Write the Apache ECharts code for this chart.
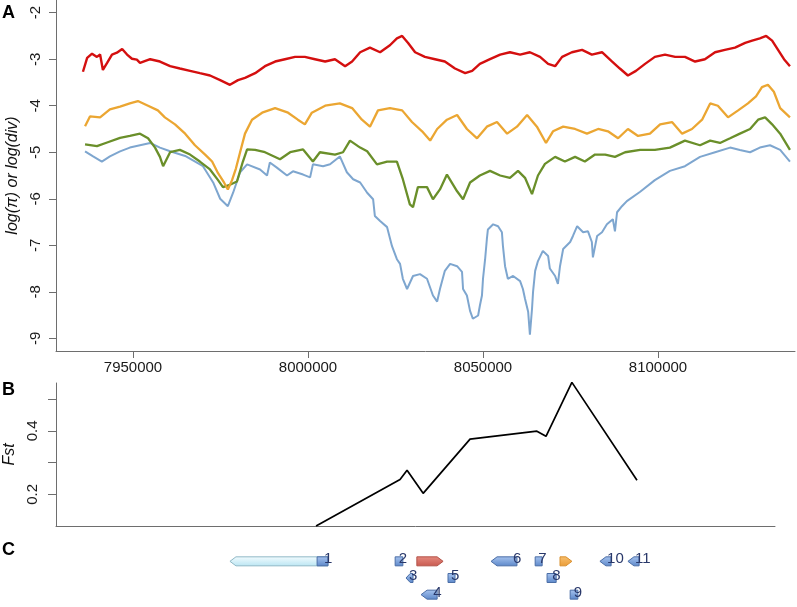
<!DOCTYPE html>
<html>
<head>
<meta charset="utf-8">
<script src="https://cdn.jsdelivr.net/npm/echarts@6/dist/echarts.min.js"></script>
<style>
html,body{margin:0;padding:0;background:#fff;}
#chart{width:797px;height:607px;}
</style>
</head>
<body>
<div id="chart"></div>
<script>
// ---- tick values ----
const xTickValues = [7950000, 8000000, 8050000, 8100000];
const yTickValuesA = [-9, -8, -7, -6, -5, -4, -3, -2];
const yTickValuesB = [0.2, 0.3, 0.4, 0.5];
const yLabelValuesB = [0.2, 0.4];

// ---- panel A series: [position (kb), log value] ----
const piRed = [[7935.7,-3.27],[7936.9,-2.97],[7938.3,-2.88],[7939.7,-2.95],[7940.6,-2.9],[7941.4,-3.23],[7942.6,-3.08],[7944.0,-2.9],[7945.4,-2.86],[7946.9,-2.78],[7948.3,-2.9],[7949.7,-2.99],[7951.1,-3.01],[7952.0,-3.08],[7954.9,-3.0],[7957.7,-3.05],[7960.6,-3.15],[7963.4,-3.2],[7966.3,-3.25],[7969.1,-3.3],[7972.0,-3.35],[7974.9,-3.45],[7977.7,-3.55],[7980.0,-3.45],[7982.0,-3.4],[7984.9,-3.3],[7987.7,-3.15],[7990.6,-3.05],[7993.4,-3.0],[7996.3,-2.95],[7999.1,-2.95],[8002.0,-3.0],[8004.9,-3.05],[8007.7,-3.0],[8010.6,-3.15],[8012.6,-3.05],[8014.9,-2.85],[8017.7,-2.75],[8020.6,-2.85],[8023.4,-2.7],[8025.4,-2.55],[8026.9,-2.5],[8028.6,-2.65],[8030.6,-2.85],[8033.4,-2.95],[8036.3,-3.0],[8039.1,-3.05],[8042.0,-3.2],[8044.9,-3.3],[8046.9,-3.25],[8049.1,-3.1],[8052.0,-3.0],[8054.9,-2.9],[8057.7,-2.85],[8060.6,-2.9],[8063.4,-2.85],[8066.3,-2.95],[8068.6,-3.1],[8070.6,-3.15],[8072.6,-2.95],[8075.4,-2.85],[8078.3,-2.8],[8081.1,-2.9],[8084.0,-2.85],[8086.9,-3.05],[8089.1,-3.2],[8091.4,-3.35],[8093.7,-3.25],[8096.3,-3.1],[8099.1,-2.95],[8102.0,-2.9],[8104.9,-2.95],[8107.7,-2.95],[8110.6,-3.05],[8113.4,-3.0],[8116.3,-2.85],[8119.1,-2.8],[8122.0,-2.75],[8124.9,-2.65],[8126.9,-2.6],[8129.1,-2.55],[8130.9,-2.5],[8132.6,-2.6],[8134.3,-2.8],[8136.0,-3.0],[8137.7,-3.15]];

const piOrange = [[7936.3,-4.44],[7937.7,-4.23],[7940.6,-4.25],[7943.4,-4.08],[7946.3,-4.02],[7949.1,-3.95],[7951.4,-3.9],[7954.3,-4.0],[7957.1,-4.1],[7959.1,-4.25],[7962.0,-4.4],[7964.9,-4.6],[7967.7,-4.85],[7970.6,-5.05],[7972.6,-5.2],[7974.3,-5.45],[7976.0,-5.65],[7977.1,-5.8],[7978.3,-5.6],[7979.4,-5.35],[7980.6,-5.0],[7982.0,-4.6],[7984.0,-4.3],[7986.9,-4.15],[7990.6,-4.05],[7994.3,-4.15],[7997.1,-4.3],[7999.1,-4.4],[8001.1,-4.15],[8004.9,-4.0],[8009.1,-3.95],[8012.6,-4.05],[8015.4,-4.3],[8017.7,-4.45],[8020.0,-4.1],[8023.4,-4.05],[8026.9,-4.1],[8029.7,-4.35],[8032.6,-4.55],[8034.9,-4.75],[8036.9,-4.5],[8039.7,-4.3],[8042.6,-4.2],[8045.4,-4.5],[8048.3,-4.7],[8051.1,-4.45],[8054.0,-4.35],[8056.9,-4.6],[8059.7,-4.45],[8062.6,-4.2],[8065.4,-4.45],[8068.0,-4.8],[8070.0,-4.55],[8072.9,-4.45],[8076.3,-4.5],[8079.7,-4.6],[8082.9,-4.5],[8085.7,-4.55],[8088.6,-4.7],[8091.4,-4.5],[8094.3,-4.65],[8097.7,-4.6],[8100.6,-4.4],[8104.0,-4.35],[8106.9,-4.6],[8109.7,-4.5],[8112.6,-4.3],[8114.9,-3.95],[8117.1,-4.0],[8120.0,-4.25],[8122.9,-4.1],[8125.7,-3.95],[8128.0,-3.8],[8129.7,-3.6],[8131.4,-3.55],[8133.1,-3.7],[8134.9,-4.05],[8137.7,-4.25]];

const piGreen = [[7936.3,-4.83],[7939.7,-4.87],[7942.6,-4.79],[7946.3,-4.69],[7949.1,-4.65],[7952.0,-4.6],[7954.3,-4.7],[7956.3,-4.9],[7957.7,-5.1],[7958.6,-5.3],[7960.6,-5.0],[7963.4,-4.95],[7966.3,-5.05],[7969.1,-5.2],[7972.0,-5.37],[7974.3,-5.6],[7975.7,-5.75],[7977.7,-5.7],[7979.7,-5.63],[7981.4,-5.2],[7982.6,-4.94],[7984.9,-4.95],[7987.7,-5.0],[7992.0,-5.15],[7994.9,-5.0],[7998.6,-4.94],[8001.4,-5.2],[8003.4,-5.0],[8007.7,-5.05],[8010.0,-5.0],[8012.0,-4.75],[8014.9,-4.9],[8016.9,-4.98],[8019.7,-5.26],[8022.6,-5.2],[8025.4,-5.2],[8027.1,-5.58],[8029.1,-6.12],[8030.0,-6.18],[8031.4,-5.75],[8034.0,-5.75],[8035.7,-6.01],[8037.7,-5.8],[8039.7,-5.48],[8042.6,-5.84],[8044.3,-6.01],[8046.3,-5.65],[8049.1,-5.5],[8052.0,-5.4],[8054.9,-5.5],[8057.7,-5.55],[8060.0,-5.4],[8062.0,-5.55],[8064.0,-5.9],[8065.7,-5.5],[8067.7,-5.25],[8070.6,-5.1],[8073.4,-5.2],[8076.3,-5.1],[8079.1,-5.2],[8082.0,-5.05],[8084.9,-5.05],[8087.7,-5.1],[8090.6,-5.0],[8094.9,-4.95],[8099.1,-4.95],[8103.4,-4.9],[8107.7,-4.75],[8112.0,-4.85],[8114.9,-4.75],[8117.7,-4.8],[8120.6,-4.7],[8123.4,-4.6],[8126.3,-4.5],[8128.6,-4.3],[8130.6,-4.25],[8132.6,-4.4],[8134.9,-4.6],[8137.7,-4.95]];

const piBlue = [[7936.3,-4.98],[7938.6,-5.09],[7941.1,-5.2],[7943.4,-5.09],[7946.3,-4.98],[7949.1,-4.9],[7952.0,-4.85],[7954.9,-4.8],[7957.7,-4.9],[7960.6,-4.98],[7964.9,-5.08],[7970.0,-5.3],[7972.9,-5.65],[7974.9,-6.0],[7977.1,-6.16],[7978.6,-5.87],[7980.6,-5.43],[7982.6,-5.26],[7986.3,-5.37],[7988.3,-5.5],[7989.1,-5.22],[7991.1,-5.33],[7994.0,-5.5],[7995.7,-5.41],[7998.6,-5.48],[8000.6,-5.54],[8001.4,-5.26],[8004.3,-5.3],[8006.3,-5.26],[8009.1,-5.09],[8011.1,-5.43],[8012.9,-5.58],[8014.9,-5.65],[8016.9,-5.87],[8018.6,-6.01],[8019.1,-6.37],[8020.6,-6.48],[8022.6,-6.61],[8024.0,-7.02],[8025.4,-7.3],[8026.3,-7.4],[8027.1,-7.72],[8028.3,-7.94],[8030.0,-7.66],[8032.0,-7.62],[8034.0,-7.72],[8035.7,-8.08],[8036.9,-8.21],[8037.7,-7.94],[8039.1,-7.55],[8040.6,-7.4],[8042.6,-7.45],[8044.0,-7.57],[8044.3,-7.94],[8045.4,-8.08],[8046.3,-8.41],[8047.1,-8.58],[8048.6,-8.51],[8049.1,-8.3],[8049.7,-8.08],[8050.0,-7.72],[8050.6,-7.3],[8051.1,-6.87],[8051.4,-6.66],[8052.9,-6.55],[8054.3,-6.59],[8055.4,-6.72],[8055.7,-7.02],[8056.3,-7.45],[8057.1,-7.72],[8058.6,-7.66],[8060.6,-7.77],[8061.4,-7.94],[8062.0,-8.15],[8062.9,-8.43],[8063.4,-8.92],[8064.0,-8.37],[8064.3,-8.0],[8064.9,-7.55],[8065.7,-7.34],[8067.1,-7.12],[8068.6,-7.23],[8069.1,-7.5],[8070.6,-7.66],[8071.4,-7.83],[8072.0,-7.45],[8072.9,-7.08],[8074.9,-6.93],[8075.7,-6.8],[8076.9,-6.59],[8078.6,-6.72],[8080.0,-6.7],[8081.1,-6.93],[8081.4,-7.26],[8082.6,-6.8],[8084.0,-6.72],[8085.4,-6.55],[8087.1,-6.44],[8087.7,-6.7],[8088.3,-6.29],[8089.7,-6.16],[8091.1,-6.05],[8094.9,-5.85],[8099.1,-5.6],[8103.4,-5.4],[8107.7,-5.3],[8112.0,-5.1],[8116.3,-5.0],[8120.6,-4.9],[8123.4,-4.95],[8126.3,-5.0],[8129.1,-4.9],[8132.0,-4.85],[8134.9,-4.95],[8137.7,-5.2]];

// ---- panel B: Fst ----
const fstPos = [8002300, 8026300, 8028300, 8032900, 8046300, 8065400, 8068000, 8075400, 8094000];
const fstVal = [0.10, 0.247, 0.276, 0.203, 0.374, 0.399, 0.383, 0.553, 0.244];

// ---- panel C: genes ----
const geneStart  = [7977700, 8002600, 8024900, 8031100, 8028000, 8040000, 8032300, 8052300, 8064900, 8072000, 8068300, 8074900, 8083400, 8091400];
const geneEnd    = [8005700, 8005700, 8027100, 8038600, 8030000, 8042000, 8036900, 8059700, 8066900, 8075400, 8070900, 8077100, 8086600, 8094600];
const geneRow    = [0, 0, 0, 0, 1, 1, 2, 0, 0, 0, 1, 2, 0, 0];
const geneStrand = [-1, 0, 0, 1, -1, 0, -1, -1, 0, 1, 0, 0, -1, -1];
const geneKind   = ['cyan','blue','blue','red','blue','blue','blue','blue','blue','orange','blue','blue','blue','blue'];
const geneLabel  = ['', '1', '2', '', '3', '5', '4', '6', '7', '', '8', '9', '10', '11'];

const palettes = {
  cyan:   ['#f4fcff', '#b9e5f2', '#8fb8c6'],
  blue:   ['#a8c4ef', '#5b87c9', '#4b6ea6'],
  red:    ['#e58a7f', '#c8594f', '#b35248'],
  orange: ['#f8c070', '#ea9c36', '#d9902f']
};

const FONT = 'Liberation Sans, Arial, Helvetica, sans-serif';
const AXC = '#6e6e6e';

const toBp = arr => arr.map(p => [Math.round(p[0] * 1000), p[1]]);

const chart = echarts.init(document.getElementById('chart'), null, {renderer: 'canvas'});

const option = {
  animation: false,
  backgroundColor: '#ffffff',
  grid: [
    {left: 56, top: 0, width: 739, height: 351, outerBoundsMode: 'none', containLabel: false},
    {left: 56, top: 383, width: 719, height: 143, outerBoundsMode: 'none', containLabel: false},
    {left: 56, top: 553, width: 739, height: 50, outerBoundsMode: 'none', containLabel: false}
  ],
  xAxis: [
    {
      gridIndex: 0, type: 'value', min: 7928000, max: 8139140,
      axisLine: {show: true, onZero: false, lineStyle: {color: AXC, width: 1}},
      axisTick: {show: true, length: 7, customValues: xTickValues, lineStyle: {color: AXC}},
      axisLabel: {show: true, customValues: xTickValues, margin: 9, fontSize: 15, color: '#1a1a1a', fontFamily: FONT,
        formatter: v => String(v)},
      splitLine: {show: false}
    },
    {
      gridIndex: 1, type: 'value', min: 7928000, max: 8133430,
      axisLine: {show: true, onZero: false, lineStyle: {color: AXC, width: 1}},
      axisTick: {show: false}, axisLabel: {show: false}, splitLine: {show: false}
    },
    {
      gridIndex: 2, type: 'value', min: 7928000, max: 8139140, show: false
    }
  ],
  yAxis: [
    {
      gridIndex: 0, type: 'value', min: -9.273, max: -1.727,
      axisLine: {show: true, onZero: false, lineStyle: {color: AXC, width: 1}},
      axisTick: {show: true, length: 7, customValues: yTickValuesA, lineStyle: {color: AXC}},
      axisLabel: {show: true, customValues: yTickValuesA, rotate: 90, margin: 13, fontSize: 15, color: '#1a1a1a', fontFamily: FONT},
      splitLine: {show: false},
      name: 'log(π) or log(div)', nameLocation: 'middle', nameRotate: 90, nameGap: 35,
      nameTextStyle: {fontStyle: 'italic', fontSize: 16, color: '#111', fontFamily: FONT}
    },
    {
      gridIndex: 1, type: 'value', min: 0.1, max: 0.551,
      axisLine: {show: true, onZero: false, lineStyle: {color: AXC, width: 1}},
      axisTick: {show: true, length: 8, customValues: yTickValuesB, lineStyle: {color: AXC}},
      axisLabel: {show: true, customValues: yLabelValuesB, rotate: 90, margin: 16, fontSize: 15, color: '#1a1a1a', fontFamily: FONT},
      splitLine: {show: false},
      name: 'Fst', nameLocation: 'middle', nameRotate: 90, nameGap: 36,
      nameTextStyle: {fontStyle: 'italic', fontSize: 16, color: '#111', fontFamily: FONT}
    },
    {
      gridIndex: 2, type: 'value', min: -0.5, max: 2.5, inverse: true, show: false
    }
  ],
  graphic: [
    {type: 'text', left: 2, top: 4, style: {text: 'A', font: 'bold 18px ' + FONT, fill: '#000'}},
    {type: 'text', left: 2, top: 381, style: {text: 'B', font: 'bold 18px ' + FONT, fill: '#000'}},
    {type: 'text', left: 2, top: 541, style: {text: 'C', font: 'bold 18px ' + FONT, fill: '#000'}}
  ],
  series: [
    {type: 'line', name: 'blue', xAxisIndex: 0, yAxisIndex: 0, data: toBp(piBlue), showSymbol: false,
      lineStyle: {color: '#7ea6cf', width: 2}, z: 2},
    {type: 'line', name: 'green', xAxisIndex: 0, yAxisIndex: 0, data: toBp(piGreen), showSymbol: false,
      lineStyle: {color: '#6a8f2a', width: 2.3}, z: 3},
    {type: 'line', name: 'orange', xAxisIndex: 0, yAxisIndex: 0, data: toBp(piOrange), showSymbol: false,
      lineStyle: {color: '#eba632', width: 2.3}, z: 4},
    {type: 'line', name: 'red', xAxisIndex: 0, yAxisIndex: 0, data: toBp(piRed), showSymbol: false,
      lineStyle: {color: '#d40f0f', width: 2.4}, z: 5},
    {type: 'line', name: 'fst', xAxisIndex: 1, yAxisIndex: 1, clip: false,
      data: fstPos.map((p, i) => [p, fstVal[i]]), showSymbol: false,
      lineStyle: {color: '#000', width: 1.7}},
    {
      type: 'custom', name: 'genes', xAxisIndex: 2, yAxisIndex: 2, clip: false,
      data: geneStart.map((s, i) => [s, geneEnd[i], geneRow[i], geneStrand[i]]),
      encode: {x: [0, 1], y: 2},
      renderItem: function (params, api) {
        const i = params.dataIndex;
        const s = api.coord([api.value(0), api.value(2)]);
        const e = api.coord([api.value(1), api.value(2)]);
        const x0 = s[0], x1 = e[0], yc = s[1];
        const hh = 4.5;
        const strand = api.value(3);
        const tip = Math.min(6, (x1 - x0) * 0.6);
        let pts;
        if (strand < 0) pts = [[x0, yc], [x0 + tip, yc - hh], [x1, yc - hh], [x1, yc + hh], [x0 + tip, yc + hh]];
        else if (strand > 0) pts = [[x0, yc - hh], [x1 - tip, yc - hh], [x1, yc], [x1 - tip, yc + hh], [x0, yc + hh]];
        else pts = [[x0, yc - hh], [x1, yc - hh], [x1, yc + hh], [x0, yc + hh]];
        const pal = palettes[geneKind[i]];
        const children = [{
          type: 'polygon', shape: {points: pts},
          style: {
            fill: new echarts.graphic.LinearGradient(0, 0, 0, 1, [{offset: 0, color: pal[0]}, {offset: 1, color: pal[1]}]),
            stroke: pal[2], lineWidth: 1
          }
        }];
        if (geneLabel[i]) {
          children.push({
            type: 'text',
            style: {text: geneLabel[i], x: x1 - 4, y: yc - 2, fill: '#29386a', font: '15px ' + FONT,
              textAlign: 'left', textVerticalAlign: 'middle'}
          });
        }
        return {type: 'group', children: children};
      }
    }
  ]
};

chart.setOption(option);
</script>
</body>
</html>
